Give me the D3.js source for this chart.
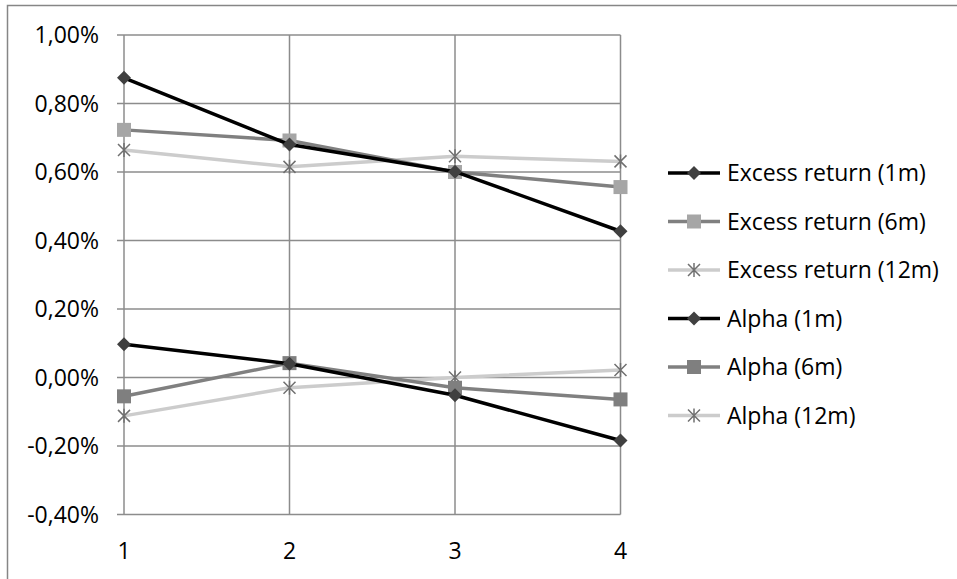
<!DOCTYPE html>
<html>
<head>
<meta charset="utf-8">
<script src="https://cdn.jsdelivr.net/npm/d3@7"></script>
<style>
  body { margin: 0; background: #fff; }
  svg text { font-family: "Open Sans", "Noto Sans", sans-serif; fill: #000; }
</style>
</head>
<body>
<div id="chart"></div>
<script>
const categories = [1, 2, 3, 4];
const yTicks = [-0.4, -0.2, 0, 0.2, 0.4, 0.6, 0.8, 1.0];

const excess1m  = [0.875, 0.680, 0.601, 0.427];
const excess6m  = [0.723, 0.692, 0.600, 0.556];
const excess12m = [0.664, 0.615, 0.646, 0.631];
const alpha1m   = [0.097, 0.040, -0.052, -0.184];
const alpha6m   = [-0.055, 0.042, -0.030, -0.064];
const alpha12m  = [-0.112, -0.030, 0.000, 0.022];

const seriesNames = ["Excess return (1m)", "Excess return (6m)", "Excess return (12m)",
                     "Alpha (1m)", "Alpha (6m)", "Alpha (12m)"];

const series = [
  { name: seriesNames[0], values: excess1m,  line: "#000000", marker: "diamond", mfill: "#404040" },
  { name: seriesNames[1], values: excess6m,  line: "#808080", marker: "square",  mfill: "#a6a6a6" },
  { name: seriesNames[2], values: excess12m, line: "#cccccc", marker: "star",    mfill: "#707070" },
  { name: seriesNames[3], values: alpha1m,   line: "#000000", marker: "diamond", mfill: "#404040" },
  { name: seriesNames[4], values: alpha6m,   line: "#808080", marker: "square",  mfill: "#7f7f7f" },
  { name: seriesNames[5], values: alpha12m,  line: "#cccccc", marker: "star",    mfill: "#707070" }
];

const width = 957, height = 579;
const svg = d3.select("#chart").append("svg")
  .attr("width", width)
  .attr("height", height);

// chart border
svg.append("rect")
  .attr("x", 7.5).attr("y", 5.5)
  .attr("width", 1000).attr("height", 1000)
  .attr("fill", "none")
  .attr("stroke", "#868686")
  .attr("stroke-width", 1.5);

const x = d3.scaleLinear().domain([1, 4]).range([124, 620.5]);
const y = d3.scaleLinear().domain([-0.4, 1.0]).range([514.5, 35]);

const grid = svg.append("g");
grid.selectAll("line.h")
  .data(yTicks)
  .enter().append("line")
  .attr("class", "h")
  .attr("x1", 117).attr("x2", x(4))
  .attr("y1", d => y(d)).attr("y2", d => y(d))
  .attr("stroke", "#8c8c8c").attr("stroke-width", 1.5);

grid.selectAll("line.v")
  .data(categories)
  .enter().append("line")
  .attr("class", "v")
  .attr("x1", d => x(d)).attr("x2", d => x(d))
  .attr("y1", y(1.0)).attr("y2", y(-0.4))
  .attr("stroke", "#8c8c8c").attr("stroke-width", 1.5);

// y labels
const fmt = v => d3.format(".2f")(v).replace(".", ",").replace("−", "-") + "%";
svg.append("g").selectAll("text")
  .data(yTicks)
  .enter().append("text")
  .attr("x", 99)
  .attr("y", d => y(d))
  .attr("dy", "0.36em")
  .attr("text-anchor", "end")
  .style("font-size", "23px")
  .text(d => fmt(d));

// x labels
svg.append("g").selectAll("text")
  .data(categories)
  .enter().append("text")
  .attr("x", d => x(d))
  .attr("y", 559)
  .attr("text-anchor", "middle")
  .style("font-size", "23px")
  .text(d => d);

function drawMarker(g, type, fill) {
  if (type === "diamond") {
    g.append("path").attr("d", "M0,-7L7,0L0,7L-7,0Z").attr("fill", fill);
  } else if (type === "square") {
    g.append("rect").attr("x", -7).attr("y", -7).attr("width", 14).attr("height", 14).attr("fill", fill);
  } else {
    g.append("path").attr("d", "M-6,-6L6,6M-6,6L6,-6M0,-7L0,7")
      .attr("stroke", fill).attr("stroke-width", 1.5).attr("fill", "none");
  }
}

const line = d3.line()
  .x((d, i) => x(categories[i]))
  .y(d => y(d));

// draw lighter series first so the darker ones sit on top, like the reference
const order = [2, 1, 0, 5, 4, 3];
order.forEach(k => {
  const s = series[k];
  const g = svg.append("g");
  g.append("path")
    .attr("d", line(s.values))
    .attr("fill", "none")
    .attr("stroke", s.line)
    .attr("stroke-width", 3.5)
    .attr("stroke-linejoin", "round");
  s.values.forEach((v, i) => {
    const m = g.append("g").attr("transform", `translate(${x(categories[i])},${y(v)})`);
    drawMarker(m, s.marker, s.mfill);
  });
});

// legend
const legend = svg.append("g");
series.forEach((s, i) => {
  const ly = 173 + i * 48.5;
  const row = legend.append("g");
  row.append("line")
    .attr("x1", 668).attr("x2", 720)
    .attr("y1", ly).attr("y2", ly)
    .attr("stroke", s.line).attr("stroke-width", 3.5);
  const m = row.append("g").attr("transform", `translate(694,${ly})`);
  drawMarker(m, s.marker, s.mfill);
  row.append("text")
    .attr("x", 727).attr("y", ly)
    .attr("dy", "0.36em")
    .style("font-size", "23px")
    .text(s.name);
});
</script>
</body>
</html>
